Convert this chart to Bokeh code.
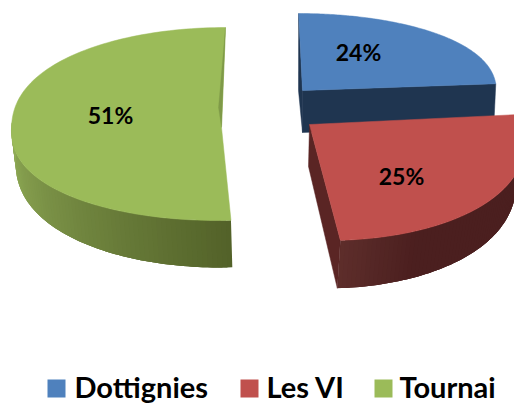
import numpy as np
from bokeh.plotting import figure
from bokeh.core.properties import value
from bokeh.embed import file_html
from bokeh.resources import INLINE

categories = ["Dottignies", "Les VI", "Tournai"]
shares = [24, 25, 51]
top_colors = ["#4f81bd", "#c0504d", "#9bbb59"]

# projection of each slice: centre, radii (across, up, down) and shear of the top face
centre_top = [(302, 90), (309, 124), (221, 127)]
radii_top = [(194, 77, 77), (215, 116, 116), (210, 100, 93)]
shear_top = [0.05, 0.15, -0.04]
# same for the bottom face
centre_bot = [(302, 132), (308, 166), (219, 160)]
radii_bot = [(192, 77, 77), (207, 122, 122), (204, 100, 107)]
shear_bot = [0.05, 0.13, 0.0]
# wall gradient: colour at the start and end of the visible arc
wall_from = ["#1f3550", "#4b1f1f", "#536229"]
wall_to = ["#1f3550", "#5e2e2b", "#92ae58"]
side_colors = ["#1f3550", "#5a2524", "#7f9a48"]
label_pos = [(358, 51), (401, 175), (110, 114)]
legend_swatch_x = [47, 240, 374]
legend_text_x = [74, 266, 399]

FONT = value("Lato")
p = figure(width=514, height=403, x_range=(0, 514), y_range=(403, 0),
           output_backend="svg", toolbar_location=None, min_border=0)
p.axis.visible = False
p.grid.visible = False
p.outline_line_color = None


def arc(angles, c, r, s, power=0.88):
    a = np.radians(angles)
    co = np.cos(a)
    dy = np.where(co >= 0, -r[1], r[2]) * np.abs(co) ** power
    dx = r[0] * np.sin(a)
    return c[0] + dx + s * dy, c[1] + dy


def mix(c1, c2, t):
    a = [int(c1[i:i + 2], 16) for i in (1, 3, 5)]
    b = [int(c2[i:i + 2], 16) for i in (1, 3, 5)]
    return "#%02x%02x%02x" % tuple(int(round(x + (y - x) * t)) for x, y in zip(a, b))


# clockwise from the top; angles follow the shares
ends = np.cumsum(shares) * 3.6
starts = np.concatenate([[0], ends[:-1]])


def draw(i):
    a0, a1 = starts[i], ends[i]
    ct, rt, st = centre_top[i], radii_top[i], shear_top[i]
    cb, rb, sb = centre_bot[i], radii_bot[i], shear_bot[i]
    ang = np.linspace(a0, a1, 120)
    xt, yt = arc(ang, ct, rt, st)
    xb, yb = arc(ang, cb, rb, sb)
    # outer wall as gradient strips, only the part facing the viewer;
    # each strip runs under the next so no seams show
    if a1 > 90:
        lo, hi = max(a0, 90), min(a1, 272)
        w = np.linspace(lo, hi, 70)
        xa, ya = arc(w, ct, rt, st)
        xc, yc = arc(w, cb, rb, sb)
        order = range(len(w) - 1) if i == 2 else range(len(w) - 2, -1, -1)
        for k in order:
            if i == 1:
                t = 1 - np.clip((176.4 - w[k]) / 22, 0, 1)
            else:
                t = (w[k] - lo) / (hi - lo)
            col = mix(wall_from[i], wall_to[i], t)
            # extend toward the strip painted later
            e = min(k + 3, len(w) - 1) if i == 2 else k + 1
            s = k if i == 2 else max(k - 2, 0)
            p.patch(np.r_[xa[s:e + 1], xc[s:e + 1][::-1]], np.r_[ya[s:e + 1], yc[s:e + 1][::-1]],
                    fill_color=col, line_color=None)
    if i == 0:
        # cut face at the end of the slice
        p.patch([ct[0], xt[-1], xb[-1], cb[0]], [ct[1], yt[-1], yb[-1], cb[1]],
                fill_color=wall_from[0], line_color=wall_from[0], line_width=0.5)
        p.patch([xt[0], ct[0], cb[0], ct[0] - 4], [yt[0], ct[1], cb[1], ct[1]],
                fill_color=side_colors[0], line_color=side_colors[0], line_width=0.5)
    if i == 1:
        p.patch([ct[0], xt[-1], xb[-1], cb[0]], [ct[1], yt[-1], yb[-1], cb[1]],
                fill_color=side_colors[1], line_color=side_colors[1], line_width=0.5)
    p.patch(np.r_[ct[0], xt], np.r_[ct[1], yt], fill_color=top_colors[i], line_color=top_colors[i], line_width=0.5)
    if i == 2:
        # sliver of the back wall beside the notch
        p.patch([xt[-1], ct[0], ct[0] - 3], [yt[-1], ct[1], ct[1] - 20],
                fill_color=side_colors[2], line_color=side_colors[2], line_width=0.3)


for i in (2, 0, 1):
    draw(i)

p.text([q[0] for q in label_pos], [q[1] for q in label_pos], text=[f"{v}%" for v in shares],
       text_font=FONT, text_font_style="bold", text_font_size="23px", text_color="black",
       text_align="center", text_baseline="middle")

p.rect([x + 9 for x in legend_swatch_x], [388] * 3, width=18, height=18, fill_color=top_colors, line_color=None)
p.text(legend_text_x, [386] * 3, text=categories, text_font=FONT, text_font_style="bold",
       text_font_size="29px", text_color="black", text_align="left", text_baseline="middle")

open("out.html", "w").write(file_html(p, INLINE))
